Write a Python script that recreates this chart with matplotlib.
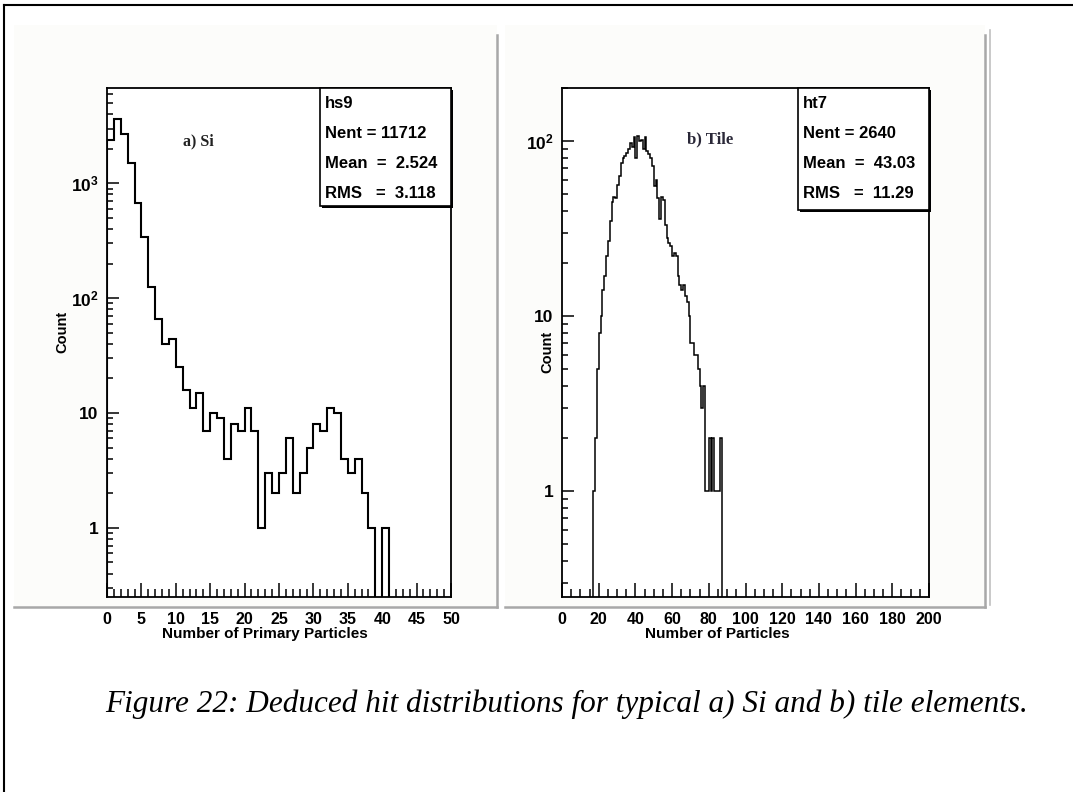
import numpy as np
import matplotlib.pyplot as plt
from matplotlib.patches import Rectangle
from matplotlib.lines import Line2D
from matplotlib.ticker import FixedLocator, FixedFormatter, LogLocator, NullFormatter, MultipleLocator

plt.rcParams['mathtext.fontset'] = 'custom'
plt.rcParams['mathtext.rm'] = 'Liberation Sans:bold'
plt.rcParams['mathtext.it'] = 'Liberation Sans:bold'
plt.rcParams['mathtext.bf'] = 'Liberation Sans:bold'

# hs9: hits per Si element, unit bins from 0
si_edges = np.arange(0, 43)
si_counts = [2380, 3640, 2690, 1500, 673, 340, 124, 66, 40, 44,
             25, 16, 11, 15, 7, 10, 9, 4, 8, 7,
             11, 7, 1, 3, 2, 3, 6, 2, 3, 5,
             8, 7, 11, 10, 4, 3, 4, 2, 1, 0,
             1, 0]

# ht7: hits per tile element, unit bins from 17 to 87
tile_edges = np.arange(17, 88)
tile_counts = [1, 2, 5, 8, 10, 14, 17, 22, 27, 35,
               45, 48, 47, 56, 63, 75, 80, 82, 86, 90,
               98, 92, 105, 80, 107, 100, 102, 90, 105, 88,
               84, 80, 72, 55, 60, 47, 36, 48, 46, 33,
               28, 26, 25, 22, 23, 22, 17, 15, 14, 15,
               13, 12, 10, 7, 7, 6, 6, 5, 4, 3,
               4, 1, 1, 2, 1, 2, 1, 1, 1, 2]

si_stats = ["hs9", "Nent = 11712", "Mean  =  2.524", "RMS   =  3.118"]
tile_stats = ["ht7", "Nent = 2640", "Mean  =  43.03", "RMS   =  11.29"]

W, H = 1073, 792
fig = plt.figure(figsize=(W / 100, H / 100), dpi=100)
fig.patch.set_facecolor('white')


def fx(x):
    return x / W


def fy(y):
    return 1 - y / H


# page frame (left and top edges)
fig.add_artist(Line2D([fx(4), fx(4)], [fy(5), fy(792)], color='black', lw=1.5))
fig.add_artist(Line2D([fx(4), fx(1073)], [fy(5), fy(5)], color='black', lw=1.5))

# pad backgrounds with grey shadow edges
for x0, x1 in [(14, 497), (505, 985)]:
    fig.add_artist(Rectangle((fx(x0), fy(607)), fx(x1 - x0), (607 - 25) / H,
                             facecolor='#fcfcfa', edgecolor='none', zorder=0))
    fig.add_artist(Line2D([fx(x1), fx(x1)], [fy(35), fy(607)], color='#a8a8a8', lw=1.8))
    fig.add_artist(Line2D([fx(x0), fx(x1)], [fy(607), fy(607)], color='#a8a8a8', lw=1.8))
fig.add_artist(Line2D([fx(990), fx(990)], [fy(30), fy(605)], color='#c0c0c0', lw=1.2))


def setup_axes(ax, xlim, ylim, xmajor, xminor):
    ax.set_yscale('log')
    ax.set_xlim(*xlim)
    ax.set_ylim(*ylim)
    ax.set_facecolor('white')
    for s in ax.spines.values():
        s.set_linewidth(1.3)
    ax.xaxis.set_major_locator(MultipleLocator(xmajor))
    ax.xaxis.set_minor_locator(MultipleLocator(xminor))
    ax.tick_params(axis='x', which='major', direction='in', length=10, width=1.1,
                   pad=11, top=False, labelsize=11.5)
    ax.tick_params(axis='x', which='minor', direction='in', length=5.5, width=1.1, top=False)
    ax.tick_params(axis='y', which='major', direction='in', length=8.5, width=1.1,
                   pad=6, right=False, labelsize=12.5)
    ax.tick_params(axis='y', which='minor', direction='in', length=4.5, width=1.1, right=False)
    ax.yaxis.set_minor_locator(LogLocator(base=10, subs=np.arange(2, 10)))
    ax.yaxis.set_minor_formatter(NullFormatter())


def bold_ticks(ax):
    for lab in ax.get_xticklabels() + ax.get_yticklabels():
        lab.set_fontfamily('Liberation Sans')
        lab.set_fontweight('bold')


def stats_box(x0, y0, x1, y1, lines):
    fig.add_artist(Rectangle((fx(x0 + 2), fy(y1 + 2)), fx(x1 - x0), (y1 - y0) / H,
                             facecolor='black', edgecolor='none', zorder=5))
    fig.add_artist(Rectangle((fx(x0), fy(y1)), fx(x1 - x0), (y1 - y0) / H,
                             facecolor='white', edgecolor='black', lw=1.2, zorder=6))
    for i, t in enumerate(lines):
        fig.text(fx(x0 + 5), fy(y0 + 16 + 29.7 * i), t, fontsize=12, fontweight='bold',
                 family='Liberation Sans', va='center', ha='left', zorder=7)


# left pad: Si
ax1 = fig.add_axes([fx(107), fy(597), fx(451 - 107), (597 - 88) / H])
setup_axes(ax1, (0, 50), (0.25, 6760), 5, 1)
ax1.stairs(si_counts, si_edges, baseline=0, color='black', lw=1.5)
ax1.yaxis.set_major_locator(FixedLocator([1, 10, 100, 1000]))
ax1.yaxis.set_major_formatter(FixedFormatter(['1', '10', r'$10^{2}$', r'$10^{3}$']))
bold_ticks(ax1)
ax1.text(0.22, 0.895, 'a) Si', transform=ax1.transAxes, family='Liberation Serif',
         fontweight='bold', fontsize=11.5, color='#222222', va='center')
fig.text(fx(62), fy(332), 'Count', rotation=90, fontsize=10.5, fontweight='bold',
         family='Liberation Sans', ha='center', va='center')
fig.text(fx(265), fy(634), 'Number of Primary Particles', fontsize=11, fontweight='bold',
         family='Liberation Sans', ha='center', va='center')
stats_box(320, 88, 451, 206, si_stats)

# right pad: tile
ax2 = fig.add_axes([fx(562), fy(597), fx(929 - 562), (597 - 88) / H])
setup_axes(ax2, (0, 200), (0.248, 201), 20, 5)
ax2.stairs(tile_counts, tile_edges, baseline=0, color='black', lw=1.1)
ax2.yaxis.set_major_locator(FixedLocator([1, 10, 100]))
ax2.yaxis.set_major_formatter(FixedFormatter(['1', '10', r'$10^{2}$']))
bold_ticks(ax2)
ax2.text(0.34, 0.9, 'b) Tile', transform=ax2.transAxes, family='Liberation Serif',
         fontweight='bold', fontsize=12, color='#2a2838', va='center')
fig.text(fx(547), fy(352), 'Count', rotation=90, fontsize=10.5, fontweight='bold',
         family='Liberation Sans', ha='center', va='center')
fig.text(fx(717), fy(634), 'Number of Particles', fontsize=11, fontweight='bold',
         family='Liberation Sans', ha='center', va='center')
stats_box(798, 88, 929, 210, tile_stats)

fig.text(fx(567), fy(704), 'Figure 22: Deduced hit distributions for typical a) Si and b) tile elements.',
         family='Liberation Serif', style='italic', fontsize=22.5, ha='center', va='center')

fig.savefig('out.png', dpi=100)
